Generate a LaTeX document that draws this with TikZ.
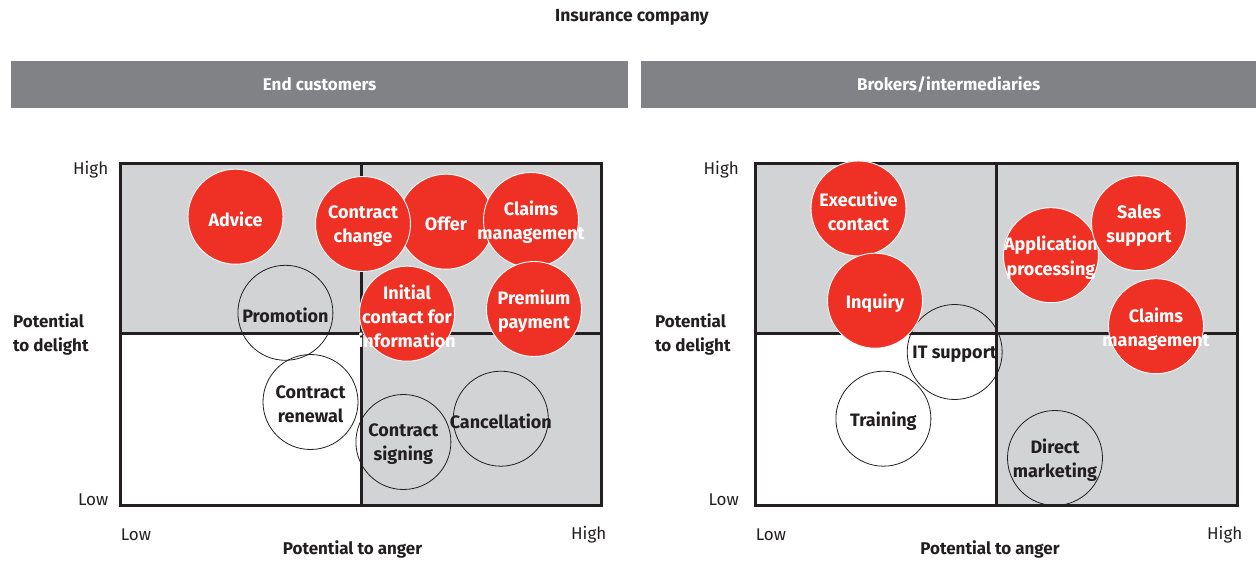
\documentclass[tikz,border=0pt]{standalone}
\usepackage{fontspec}
\setmainfont{Fira Sans}
\definecolor{myred}{HTML}{EE3124}
\definecolor{quadgray}{HTML}{D1D3D4}
\definecolor{hdrgray}{HTML}{818285}
\definecolor{ink}{HTML}{231F20}
\tikzset{
  redc/.style={circle, fill=myred, draw=white, line width=0.9bp, minimum size=95bp, inner sep=0pt},
  hollowc/.style={circle, draw=ink, line width=0.8bp, minimum size=95bp, inner sep=0pt},
  wtxt/.style={text=white, font=\bfseries\fontsize{18bp}{24bp}\selectfont, align=center, inner sep=0pt, yshift=-2.5bp},
  btxt/.style={text=ink, font=\bfseries\fontsize{18bp}{24bp}\selectfont, align=center, inner sep=0pt, yshift=-2.5bp},
  axtxt/.style={text=ink, font=\bfseries\fontsize{17bp}{24bp}\selectfont, align=left, inner sep=0pt},
  ticktxt/.style={text=ink, font=\fontsize{17bp}{20bp}\selectfont, inner sep=0pt},
  hdrbar/.style={fill=hdrgray, minimum width=617bp, minimum height=47bp, inner sep=0pt, anchor=north west},
  hdrtxt/.style={text=white, font=\bfseries\fontsize{17bp}{20bp}\selectfont},
  frameline/.style={draw=ink, line width=3bp}
}
\begin{document}
\begin{tikzpicture}[x=1bp,y=-1bp]
\useasboundingbox (0,0) rectangle (1256,562);
% title and headers
\node[text=ink, font=\bfseries\fontsize{17.5bp}{20bp}\selectfont] (title) at (632,17) {Insurance company};
\node[hdrbar] (bar1) at (11,60.5) {};
\node[hdrtxt] (bar1t) at (bar1.center) {End customers};
\node[hdrbar, minimum width=615bp] (bar2) at (641,60.5) {};
\node[hdrtxt] (bar2t) at (bar2.center) {Brokers/intermediaries};

% ================= LEFT PANEL =================
\fill[quadgray] (120.7,163.3) rectangle (601.7,505);
\fill[white] (120.7,334) rectangle (361,505);
\draw[frameline] (120.7,163.3) rectangle (601.7,505);
\draw[frameline] (361,163.3) -- (361,505);
\draw[frameline] (120.7,334) -- (601.7,334);

\node[ticktxt, anchor=east] (lhigh) at (108.5,170) {High};
\node[ticktxt, anchor=east] (llow) at (108.5,500) {Low};
\node[axtxt, anchor=west] (ldel) at (13,334) {Potential\\to delight};
\node[ticktxt, anchor=west] (lxlow) at (120.7,535) {Low};
\node[ticktxt, anchor=east] (lxhigh) at (606.5,535) {High};
\node[axtxt, anchor=center] (lang) at (352.5,549) {Potential to anger};

% hollow circles
\node[hollowc] (promo) at (285.4,312.8) {};
\node[hollowc] (renew) at (310.5,402) {};
\node[hollowc] (sign) at (403.4,442) {};
\node[hollowc] (cancel) at (500.8,418.7) {};
\node[btxt] (promot) at (promo) {Promotion};
\node[btxt] (renewt) at (renew) {Contract\\renewal};
\node[btxt] (signt) at (sign) {Contract\\signing};
\node[btxt] (cancelt) at (cancel) {Cancellation};

% red circles
\node[redc] (offer) at (446,221.7) {};
\node[redc] (cchange) at (363,224) {};
\node[redc] (claims1) at (531,220) {};
\node[redc] (premium) at (534,309) {};
\node[redc] (initial) at (407,313.7) {};
\node[redc] (advice) at (235.5,216.7) {};
\node[wtxt] (offert) at (offer) {Offer};
\node[wtxt] (cchanget) at (cchange) {Contract\\change};
\node[wtxt] (claims1t) at (claims1) {Claims\\management};
\node[wtxt] (premiumt) at (premium) {Premium\\payment};
\node[wtxt] (initialt) at (initial) {Initial\\contact for\\information};
\node[wtxt] (advicet) at (advice) {Advice};

% ================= RIGHT PANEL =================
\fill[quadgray] (755.6,163.3) rectangle (1237,505);
\fill[white] (755.6,334) rectangle (996,505);
\draw[frameline] (755.6,163.3) rectangle (1237,505);
\draw[frameline] (996,163.3) -- (996,505);
\draw[frameline] (755.6,334) -- (1237,334);

\node[ticktxt, anchor=east] (rhigh) at (739,170) {High};
\node[ticktxt, anchor=east] (rlow) at (739,500) {Low};
\node[axtxt, anchor=west] (rdel) at (655,334) {Potential\\to delight};
\node[ticktxt, anchor=west] (rxlow) at (755.6,535) {Low};
\node[ticktxt, anchor=east] (rxhigh) at (1242.5,535) {High};
\node[axtxt, anchor=center] (rang) at (990,549) {Potential to anger};

% hollow circles
\node[hollowc] (itsup) at (954.7,352) {};
\node[hollowc] (training) at (883.4,418.7) {};
\node[hollowc] (direct) at (1055,458) {};
\node[btxt] (itsupt) at (itsup) {IT support};
\node[btxt] (trainingt) at (training) {Training};
\node[btxt] (directt) at (direct) {Direct\\marketing};

% red circles
\node[redc] (exec) at (858.5,208.5) {};
\node[redc] (inquiry) at (875,300.7) {};
\node[redc] (applic) at (1050.9,255.2) {};
\node[redc] (sales) at (1139,223.2) {};
\node[redc] (claims2) at (1156,326.2) {};
\node[wtxt] (exect) at (exec) {Executive\\contact};
\node[wtxt] (inquiryt) at (inquiry) {Inquiry};
\node[wtxt] (applict) at (applic) {Application\\processing};
\node[wtxt] (salest) at (sales) {Sales\\support};
\node[wtxt] (claims2t) at (claims2) {Claims\\management};
\end{tikzpicture}
\end{document}
